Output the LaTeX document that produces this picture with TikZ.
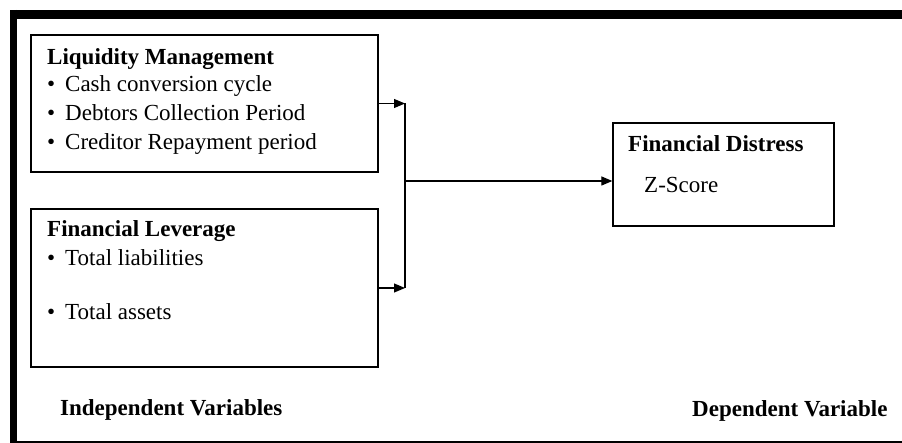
\documentclass[tikz,border=0pt]{standalone}
\usepackage{fontspec}
\setmainfont{Liberation Serif}
\usetikzlibrary{arrows.meta}

\tikzset{
  box/.style={draw, line width=1.3pt, inner sep=0pt},
  lbl/.style={anchor=base west, inner sep=0pt, font=\fontsize{23}{27}\selectfont},
  link/.style={line width=1.2pt},
  arr/.style={link, -{Triangle[length=11pt, width=9pt]}}
}
\newcommand{\bul}[1]{\makebox[18pt][l]{\textbullet}#1}

\begin{document}
\begin{tikzpicture}[x=1pt, y=-1pt]
\useasboundingbox (0,0) rectangle (902,443);
\draw[line width=9pt] (10,14.5) -- (902,14.5);
\draw[line width=7pt] (13.5,10) -- (13.5,443);
\draw[line width=2pt] (10,442) -- (902,442);
\path (204.5,103.5) node (LM) [box, minimum width=347pt, minimum height=137pt] {};
\path (204.5,288) node (FL) [box, minimum width=347pt, minimum height=158pt] {};
\path (723.5,174.5) node (FD) [box, minimum width=221pt, minimum height=103pt] {};
\path (47,65) node (LMt) [lbl] {\textbf{Liquidity Management}};
\path (47,92) node (LMa) [lbl] {\bul{Cash conversion cycle}};
\path (47,121) node (LMb) [lbl] {\bul{Debtors Collection Period}};
\path (47,150) node (LMc) [lbl] {\bul{Creditor Repayment period}};
\path (47,237) node (FLt) [lbl] {\textbf{Financial Leverage}};
\path (47,266) node (FLa) [lbl] {\bul{Total liabilities}};
\path (47,320) node (FLb) [lbl] {\bul{Total assets}};
\path (628,152) node (FDt) [lbl] {\textbf{Financial Distress}};
\path (644,193) node (FDa) [lbl] {Z-Score};
\path (60,415) node (IV) [lbl] {\textbf{Independent Variables}};
\path (692,417) node (DV) [lbl] {\textbf{Dependent Variable}};
\coordinate (JT) at (405,103.5);
\coordinate (JB) at (405,288);
\coordinate (JM) at (405,181);
\draw[arr] (LM.east) -- (JT);
\draw[arr] (FL.east) -- (JB);
\draw[link] (JT) -- (JB);
\draw[arr] (JM) -- (JM -| FD.west);
\end{tikzpicture}
\end{document}
